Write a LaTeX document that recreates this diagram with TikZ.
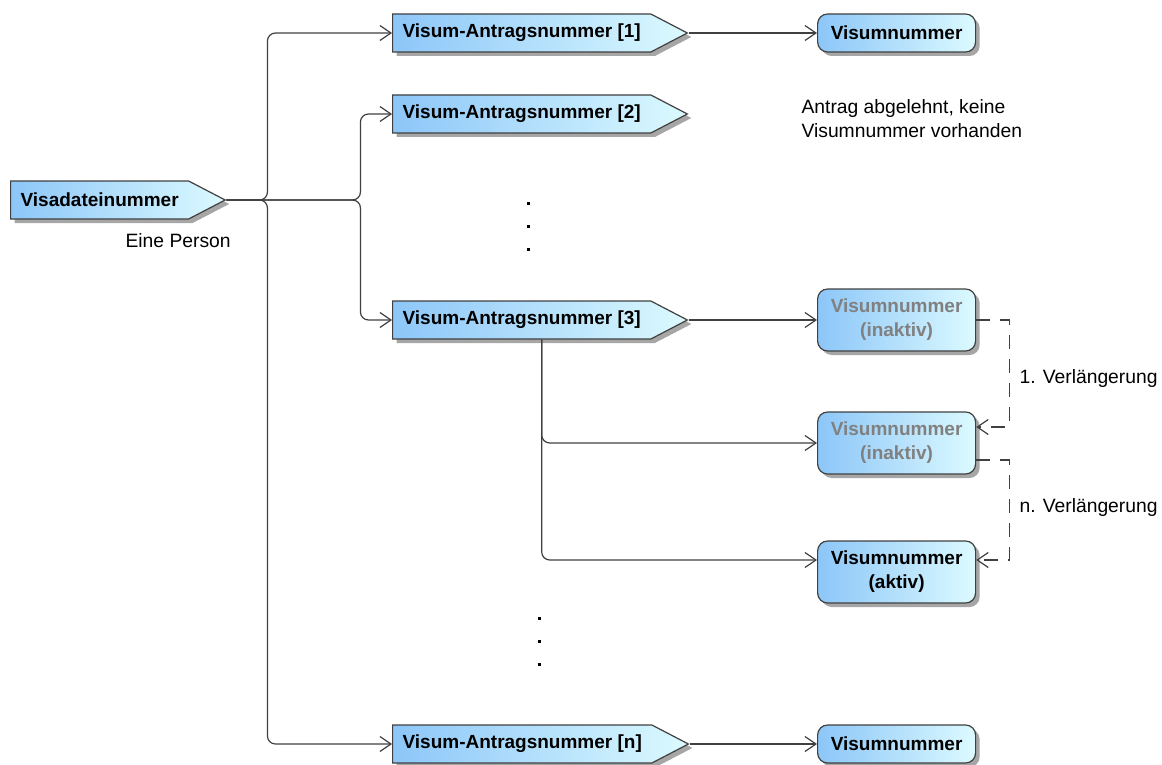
\documentclass[tikz,border=0pt]{standalone}
\usepackage{fontspec}
\setmainfont{Liberation Sans}
\usetikzlibrary{shapes.symbols, shadows, arrows.meta}
\definecolor{boxleft}{HTML}{8CC6F8}
\definecolor{boxright}{HTML}{DCFAFF}
\definecolor{edge}{HTML}{404040}
\definecolor{faded}{HTML}{808080}
\tikzset{
  box/.style={draw=edge, line width=1.2pt, left color=boxleft, right color=boxright,
    drop shadow={shadow xshift=4pt, shadow yshift=-4pt, fill=black, opacity=0.35},
    font=\bfseries\fontsize{19}{24}\selectfont},
  idbox/.style={box, signal, signal to=east, signal pointer angle=55,
    minimum height=38pt, inner xsep=10pt, anchor=west},
  numbox/.style={box, rectangle, rounded corners=10pt, minimum width=158pt,
    minimum height=38pt, align=center, anchor=west},
  link/.style={draw=edge, line width=1.2pt, rounded corners=8pt,
    -{Straight Barb[length=11pt,width=15pt]}},
  renew/.style={draw=edge, line width=1.2pt, dash pattern=on 14pt off 10pt,
    -{Straight Barb[length=11pt,width=15pt]}},
  note/.style={font=\fontsize{19.3}{24}\selectfont, align=left, anchor=west}
}

\begin{document}
\begin{tikzpicture}[x=1pt, y=-1pt]
\useasboundingbox (0,0) rectangle (1162,765);

% Datei und Antraege
\node[idbox] (vd) at (10,200) {Visadateinummer};
\node[note] (person) at (122,241) {Eine Person};
\node[idbox] (a1) at (392,33) {Visum-Antragsnummer [1]};
\node[idbox] (a2) at (392,114) {Visum-Antragsnummer [2]};
\node[idbox] (a3) at (392,320) {Visum-Antragsnummer [3]};
\node[idbox] (an) at (392,744) {Visum-Antragsnummer [n]};

% Visumnummern
\node[numbox] (v1) at (817,33) {Visumnummer};
\node[note] (refused) at (798,119) {Antrag abgelehnt, keine\\Visumnummer vorhanden};
\node[numbox, minimum height=62pt, text=faded] (i1) at (817,320) {Visumnummer\\(inaktiv)};
\node[numbox, minimum height=62pt, text=faded] (i2) at (817,443) {Visumnummer\\(inaktiv)};
\node[numbox, minimum height=62pt] (ak) at (817,572) {Visumnummer\\(aktiv)};
\node[numbox] (vn) at (817,744) {Visumnummer};

% Verbindungen
\draw[link] (vd.east) -- ++(41,0) |- (a1.west);
\draw[link] (vd.east) -- ++(41,0) |- (an.west);
\draw[link] (vd.east) -- ++(134,0) |- (a2.west);
\draw[link] (vd.east) -- ++(134,0) |- (a3.west);
\draw[link] (a1.east) -- (v1.west);
\draw[link] (a3.east) -- (i1.west);
\draw[link] (an.east) -- (vn.west);
\draw[link] ([xshift=20pt]a3.south) |- (i2.west);
\draw[link] ([xshift=20pt]a3.south) |- ([yshift=12pt]ak.west);

% Verlaengerungen
\draw[renew] (i1.east) -- ++(33,0) |- ([yshift=16pt]i2.east);
\draw[renew] ([yshift=-17pt]i2.east) -- ++(33,0) |- ([yshift=12pt]ak.east);
\node[note] (ext1) at (1016,379) {1. Verlängerung};
\node[note] (extn) at (1016,508) {n. Verlängerung};

% Punkte
\foreach \y in {202,225,248} \fill (527,\y) rectangle ++(2.5,2.5);
\foreach \y in {617,640,663} \fill (538,\y) rectangle ++(2.5,2.5);
\end{tikzpicture}
\end{document}
